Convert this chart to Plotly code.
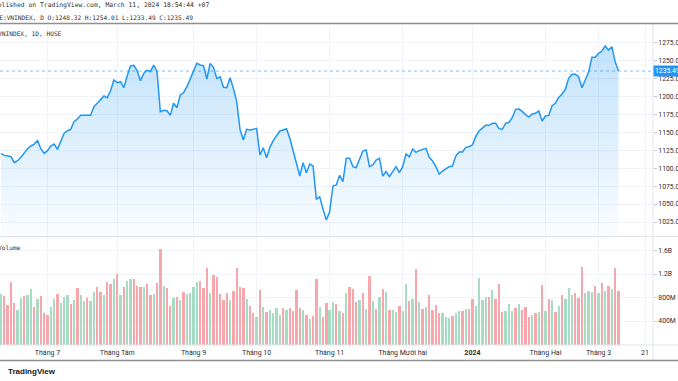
import plotly.graph_objects as go

# ---------------- data ----------------
close = [
    1120.7, 1117.9, 1117.0, 1116.1, 1107.7, 1110.5, 1115.2, 1121.7, 1127.2, 1131.0,
    1133.7, 1138.4, 1127.2, 1120.7, 1124.5, 1131.0, 1133.7, 1126.3, 1137.0, 1148.6,
    1152.3, 1154.2, 1164.9, 1168.6, 1173.7, 1174.2, 1173.7, 1173.7, 1185.8, 1190.5,
    1195.1, 1200.7, 1198.3, 1208.1, 1223.0, 1219.3, 1220.7, 1212.3, 1228.6, 1242.5,
    1243.4, 1236.0, 1222.1, 1232.3, 1236.9, 1234.6, 1243.9, 1234.6, 1178.8, 1180.7,
    1180.2, 1173.7, 1190.5, 1184.4, 1202.1, 1205.3, 1213.7, 1224.4, 1234.6, 1246.2,
    1243.9, 1243.0, 1224.4, 1246.2, 1240.6, 1225.3, 1227.6, 1212.8, 1212.3, 1226.2,
    1211.4, 1192.8, 1154.2, 1139.3, 1154.2, 1153.3, 1154.2, 1155.6, 1118.4, 1128.6,
    1114.7, 1129.1, 1138.4, 1144.9, 1151.9, 1153.3, 1155.1, 1141.7, 1123.1, 1104.5,
    1089.1, 1107.7, 1093.8, 1105.9, 1103.1, 1056.6, 1060.3, 1042.7, 1027.8, 1039.4,
    1075.2, 1076.6, 1090.1, 1081.2, 1113.8, 1113.8, 1102.2, 1100.8, 1111.4, 1124.0,
    1125.4, 1102.2, 1104.5, 1111.4, 1113.8, 1089.1, 1095.2, 1088.2, 1095.2, 1102.2,
    1093.8, 1102.2, 1119.8, 1116.1, 1126.8, 1122.1, 1124.5, 1126.3, 1127.7, 1115.2,
    1110.0, 1102.2, 1091.9, 1096.1, 1099.8, 1102.2, 1103.1, 1117.0, 1122.6, 1122.6,
    1129.1, 1130.0, 1132.4, 1144.0, 1151.9, 1156.1, 1159.8, 1159.8, 1162.6, 1162.6,
    1155.6, 1154.2, 1162.6, 1164.0, 1170.5, 1182.1, 1182.5, 1179.3, 1174.6, 1171.4,
    1175.6, 1176.5, 1179.8, 1165.8, 1172.8, 1173.7, 1187.2, 1190.5, 1198.8, 1203.5,
    1210.0, 1225.3, 1230.9, 1230.9, 1227.6, 1212.3, 1223.9, 1234.1, 1254.6, 1254.6,
    1260.2, 1263.4, 1270.4, 1264.8, 1269.5, 1248.6, 1235.49,
]

volume_m = [
    860, 831, 672, 1064, 712, 587, 792, 820, 848, 945,
    638, 769, 831, 536, 497, 633, 769, 860, 706, 814,
    843, 689, 757, 967, 843, 740, 792, 740, 888, 979,
    899, 843, 1064, 1030, 1115, 1200, 843, 973, 1081, 1109,
    1109, 1001, 973, 973, 1024, 843, 860, 1041, 1626, 996,
    967, 655, 786, 809, 763, 894, 860, 877, 979, 1064,
    1087, 967, 1297, 871, 1183, 1149, 860, 752, 871, 763,
    911, 1302, 984, 956, 775, 650, 531, 462, 933, 644,
    553, 582, 542, 621, 497, 616, 587, 621, 565, 922,
    616, 593, 497, 440, 491, 1121, 633, 462, 701, 593,
    729, 695, 565, 536, 877, 984, 950, 723, 757, 871,
    599, 1166, 740, 599, 803, 945, 894, 587, 587, 553,
    655, 565, 1030, 746, 775, 1285, 723, 610, 644, 837,
    593, 678, 542, 542, 468, 451, 485, 542, 565, 565,
    599, 610, 775, 655, 1132, 757, 809, 803, 928, 780,
    1030, 553, 570, 689, 565, 621, 689, 593, 644, 474,
    497, 542, 553, 1013, 576, 780, 763, 559, 655, 837,
    780, 967, 837, 877, 786, 1314, 877, 905, 888, 1001,
    877, 1047, 916, 990, 945, 1297, 911,
]

# 1 = up candle (green volume bar), 0 = down candle (red volume bar)
candle_up = [
    1, 0, 0, 0, 0, 1, 1, 0, 1, 1,
    0, 1, 0, 0, 0, 1, 1, 0, 1, 1,
    1, 0, 1, 0, 1, 1, 0, 1, 1, 0,
    0, 1, 0, 0, 1, 0, 1, 0, 1, 1,
    0, 0, 0, 1, 0, 0, 1, 0, 0, 1,
    0, 0, 1, 0, 1, 0, 1, 1, 1, 1,
    0, 0, 0, 1, 0, 0, 0, 0, 0, 1,
    0, 0, 0, 0, 1, 0, 0, 1, 0, 1,
    0, 1, 1, 1, 1, 0, 1, 0, 0, 0,
    0, 1, 0, 1, 0, 0, 1, 0, 0, 1,
    1, 0, 1, 0, 1, 0, 0, 0, 1, 0,
    1, 0, 1, 0, 1, 0, 1, 0, 1, 1,
    0, 1, 1, 0, 1, 0, 1, 0, 1, 0,
    0, 0, 0, 1, 1, 1, 0, 1, 1, 0,
    1, 0, 0, 1, 1, 1, 1, 0, 1, 0,
    0, 0, 1, 1, 1, 0, 1, 0, 0, 0,
    1, 0, 1, 0, 1, 0, 1, 0, 1, 0,
    1, 1, 1, 0, 0, 0, 1, 1, 1, 0,
    1, 0, 1, 0, 1, 0, 0,
]

month_tick_sessions = [14, 35, 58, 77, 99, 121, 142, 164, 180, 194]
month_tick_labels = ["Tháng 7", "Tháng Tám", "Tháng 9", "Tháng 10", "Tháng 11",
                     "Tháng Mười hai", "<b>2024</b>", "Tháng Hai", "Tháng 3", "21"]
price_ticks = [1025, 1050, 1075, 1100, 1125, 1150, 1175, 1200, 1225, 1250, 1275]
volume_ticks = [400, 800, 1200, 1600]
volume_tick_labels = ["400M", "800M", "1.2B", "1.6B"]

header_published = "Published on TradingView.com, March 11, 2024 18:54:44 +07"
header_ohlc = "HOSE:VNINDEX, D O:1248.32 H:1254.01 L:1233.49 C:1235.49"
series_title = "VNINDEX, 1D, HOSE"

# ---------------- figure ----------------
W, H = 678, 381
ML, MR, MT, MB = 0, 25, 25, 36
PW = W - ML - MR
PH = H - MT - MB


def py(px):
    """pixel row -> paper y"""
    return (H - MB - px) / PH


def pxx(px):
    """pixel column -> paper x"""
    return (px - ML) / PW


sessions = list(range(len(close)))
LINE = "#2196F3"
UP = "#a6dcc4"
DOWN = "#f7a7ac"
GRID = "#f0f3fa"
TXT = "#2a2e39"

fig = go.Figure()
fig.add_trace(go.Scatter(
    x=sessions, y=close, mode="lines",
    line=dict(color=LINE, width=1.5),
    fill="tozeroy",
    fillgradient=dict(type="vertical",
                      colorscale=[[0, "rgba(33,150,243,0.02)"], [1, "rgba(33,150,243,0.28)"]],
                      start=1005, stop=1275),
    xaxis="x", yaxis="y", hoverinfo="skip", showlegend=False,
))
fig.add_trace(go.Bar(
    x=sessions, y=volume_m,
    marker=dict(color=[UP if u else DOWN for u in candle_up], line=dict(width=0)),
    width=0.7, xaxis="x2", yaxis="y2", hoverinfo="skip", showlegend=False,
))

xr = [-0.3, 196.4]
fig.update_layout(
    width=W, height=H,
    margin=dict(l=ML, r=MR, t=MT, b=MB, pad=0),
    paper_bgcolor="white", plot_bgcolor="white",
    font=dict(family="Roboto, Liberation Sans, sans-serif", color=TXT, size=7),
    bargap=0,
    xaxis=dict(domain=[0, 1], anchor="y", range=xr, tickvals=month_tick_sessions,
               showticklabels=False, showgrid=True, gridcolor=GRID, zeroline=False,
               showline=False, ticks=""),
    xaxis2=dict(domain=[0, 1], anchor="y2", range=xr, matches="x",
                tickvals=month_tick_sessions, ticktext=month_tick_labels,
                tickfont=dict(size=7, color=TXT), showgrid=True, gridcolor=GRID,
                zeroline=False, showline=False, ticks="", ticklabelstandoff=2),
    yaxis=dict(domain=[py(236), 1], anchor="x", side="right", range=[1005.5, 1299.7],
               tickvals=price_ticks, tickformat=".1f", ticks="outside", ticklen=3,
               tickcolor="#c8cbd3", tickfont=dict(size=6.8, color=TXT),
               showgrid=True, gridcolor=GRID, zeroline=False, showline=False),
    yaxis2=dict(domain=[0, py(237)], anchor="x2", side="right", range=[-8, 1830],
                tickvals=volume_ticks, ticktext=volume_tick_labels, ticks="outside",
                ticklen=3, tickcolor="#c8cbd3", tickfont=dict(size=6.8, color=TXT),
                showgrid=True, gridcolor=GRID, zeroline=False, showline=False),
)

shapes = [
    # pane separator
    dict(type="line", xref="paper", yref="paper", x0=0, x1=pxx(W), y0=py(236.5), y1=py(236.5),
         line=dict(color="#e0e3eb", width=1)),
    # bottom time-axis line
    dict(type="line", xref="paper", yref="paper", x0=0, x1=pxx(W), y0=py(345), y1=py(345),
         line=dict(color="#e0e3eb", width=1)),
    # price-scale separator
    dict(type="line", xref="paper", yref="paper", x0=1, x1=1, y0=py(360), y1=py(24.5),
         line=dict(color="#e0e3eb", width=1)),
    # header / footer rules
    dict(type="line", xref="paper", yref="paper", x0=0, x1=pxx(W), y0=py(23.5), y1=py(23.5),
         line=dict(color="#8f8f8f", width=1.5)),
    dict(type="line", xref="paper", yref="paper", x0=0, x1=pxx(W), y0=py(360.5), y1=py(360.5),
         line=dict(color="#8f8f8f", width=1.5)),
    # last price line
    dict(type="line", xref="paper", yref="y", x0=0, x1=1, y0=close[-1], y1=close[-1],
         line=dict(color="rgba(33,150,243,0.6)", width=1, dash="dot")),
]
fig.update_layout(shapes=shapes)

mono = "DejaVu Sans Mono, monospace"
annotations = [
    dict(text=header_published, xref="paper", yref="paper", x=pxx(-12.5), y=py(5.5),
         xanchor="left", yanchor="middle", showarrow=False,
         font=dict(family=mono, size=6.4, color="#333333")),
    dict(text=header_ohlc, xref="paper", yref="paper", x=pxx(-14), y=py(17),
         xanchor="left", yanchor="middle", showarrow=False,
         font=dict(family=mono, size=6.2, color="#333333")),
    dict(text=series_title, xref="paper", yref="paper", x=pxx(-4.5), y=py(34),
         xanchor="left", yanchor="middle", showarrow=False,
         font=dict(family=mono, size=6.2, color="#333333")),
    dict(text="Volume", xref="paper", yref="paper", x=pxx(-4.5), y=py(247),
         xanchor="left", yanchor="middle", showarrow=False,
         font=dict(family=mono, size=6.2, color="#333333")),
    dict(text=f"{close[-1]:.2f}", xref="paper", yref="y", x=1, y=close[-1],
         xanchor="left", yanchor="middle", showarrow=False, bgcolor=LINE,
         borderpad=1, font=dict(size=6.8, color="white")),
    dict(text="<b>TradingView</b>", xref="paper", yref="paper", x=pxx(6), y=py(371),
         xanchor="left", yanchor="middle", showarrow=False,
         font=dict(family="Liberation Sans, Arial, sans-serif", size=8, color="#131722")),
]
fig.update_layout(annotations=annotations)

fig.write_html(
    "out.html",
    config={"displayModeBar": False},
    post_script="document.body.style.margin='0';document.body.style.padding='0';",
)
